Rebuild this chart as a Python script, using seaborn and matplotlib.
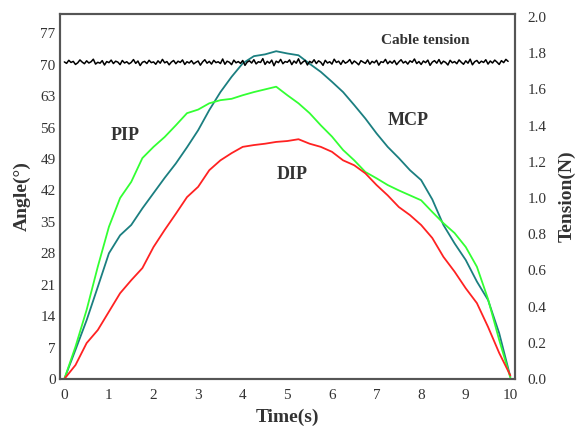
import matplotlib
matplotlib.use("Agg")
import matplotlib.pyplot as plt
import numpy as np
import pandas as pd
import seaborn as sns

time_angle = [0, 0.25, 0.5, 0.75, 1, 1.25, 1.5, 1.75, 2, 2.25, 2.5, 2.75, 3, 3.25, 3.5,
              3.75, 4, 4.25, 4.5, 4.75, 5, 5.25, 5.5, 5.75, 6, 6.25, 6.5, 6.75, 7, 7.25,
              7.5, 7.75, 8, 8.25, 8.5, 8.75, 9, 9.25, 9.5, 9.75, 10]

mcp = [0, 6.5, 13.1, 20.5, 28, 32, 34.3, 38.0, 41.4, 44.8, 48, 51.6, 55.4, 59.9, 63.9,
       67.3, 70.3, 71.9, 72.3, 73.0, 72.5, 72.1, 70.2, 68.4, 66.2, 63.9, 61, 58, 54.7,
       51.7, 49.2, 46.5, 44.3, 40.0, 34.3, 30.2, 26.5, 21.7, 17.6, 10.2, 0.5]

pip = [0, 7.2, 15.4, 25, 33.9, 40.3, 43.9, 49.2, 51.7, 53.9, 56.5, 59.2, 60, 61.4, 62.1,
       62.4, 63.2, 63.9, 64.5, 65.1, 63.2, 61.4, 59.2, 56.5, 54, 51, 48.7, 46.1, 44.7,
       43.2, 42, 40.9, 39.8, 37.2, 34.7, 32.5, 29.4, 25, 17.8, 8.7, 0.3]

dip = [0, 3.1, 8, 10.9, 15, 19.1, 22, 24.7, 29.4, 33.2, 36.8, 40.5, 42.8, 46.5, 48.7,
       50.3, 51.7, 52.1, 52.4, 52.8, 53.0, 53.4, 52.4, 51.7, 50.6, 48.7, 47.6, 45.8, 43.2,
       40.9, 38.3, 36.5, 34.3, 31.4, 27.2, 23.9, 20.2, 16.9, 11.6, 5.8, 0.8]

# cable tension (N), read every 0.05 s, it just wobbles around 1.75
tension = [1.752, 1.744, 1.761, 1.749, 1.755, 1.738, 1.747, 1.763, 1.751, 1.742,
           1.758, 1.746, 1.753, 1.767, 1.740, 1.750, 1.745, 1.759, 1.735, 1.754,
           1.748, 1.762, 1.743, 1.756, 1.751, 1.737, 1.760, 1.746, 1.753, 1.741,
           1.749, 1.765, 1.744, 1.757, 1.732, 1.750, 1.755, 1.743, 1.761, 1.748,
           1.752, 1.739, 1.758, 1.745, 1.766, 1.747, 1.754, 1.736, 1.751, 1.760,
           1.742, 1.756, 1.749, 1.763, 1.738, 1.753, 1.746, 1.759, 1.741, 1.750,
           1.757, 1.734, 1.752, 1.764, 1.745, 1.755, 1.740, 1.761, 1.748, 1.753,
           1.743, 1.768, 1.739, 1.756, 1.750, 1.737, 1.762, 1.747, 1.754, 1.744,
           1.760, 1.733, 1.751, 1.758, 1.746, 1.764, 1.741, 1.753, 1.749, 1.770,
           1.738, 1.755, 1.745, 1.762, 1.731, 1.756, 1.748, 1.766, 1.742, 1.754,
           1.750, 1.763, 1.737, 1.757, 1.745, 1.769, 1.740, 1.752, 1.760, 1.735,
           1.755, 1.747, 1.764, 1.743, 1.758, 1.750, 1.733, 1.761, 1.746, 1.753,
           1.740, 1.767, 1.749, 1.756, 1.738, 1.760, 1.745, 1.752, 1.765, 1.741,
           1.757, 1.748, 1.736, 1.759, 1.751, 1.744, 1.763, 1.739, 1.755, 1.747,
           1.761, 1.734, 1.753, 1.749, 1.766, 1.742, 1.756, 1.745, 1.760, 1.737,
           1.752, 1.764, 1.746, 1.755, 1.740, 1.758, 1.750, 1.768, 1.743, 1.754,
           1.738, 1.757, 1.748, 1.762, 1.733, 1.751, 1.759, 1.745, 1.765, 1.741,
           1.756, 1.749, 1.735, 1.761, 1.747, 1.754, 1.742, 1.763, 1.750, 1.739,
           1.758, 1.745, 1.767, 1.736, 1.753, 1.760, 1.744, 1.756, 1.749, 1.764,
           1.740, 1.757, 1.746, 1.762, 1.751, 1.738, 1.759, 1.748, 1.766, 1.755]
time_tension = np.linspace(0, 9.95, len(tension))

angle_ticks = [0, 7, 14, 21, 28, 35, 42, 49, 56, 63, 70, 77]
tension_ticks = [0.0, 0.2, 0.4, 0.6, 0.8, 1.0, 1.2, 1.4, 1.6, 1.8, 2.0]
time_ticks = [0, 1, 2, 3, 4, 5, 6, 7, 8, 9, 10]

df_angle = pd.DataFrame({"Time": time_angle, "MCP": mcp, "PIP": pip, "DIP": dip})
df_tension = pd.DataFrame({"Time": time_tension, "Tension": tension})

sns.set_style("white")
plt.rcParams["font.family"] = ["Liberation Serif", "DejaVu Serif"]

fig = plt.figure(figsize=(5.87, 4.32), dpi=100)
ax = fig.add_axes([0.102, 0.1227, 0.775, 0.845])

sns.lineplot(data=df_angle, x="Time", y="MCP", color="#1b7f80", lw=1.3, ax=ax)
sns.lineplot(data=df_angle, x="Time", y="PIP", color="#33ff33", lw=1.3, ax=ax)
sns.lineplot(data=df_angle, x="Time", y="DIP", color="#ff2222", lw=1.3, ax=ax)

ax2 = ax.twinx()
sns.lineplot(data=df_tension, x="Time", y="Tension", color="black", lw=1.1, ax=ax2)

ax.set_xlim(-0.1, 10.1)
ax.set_ylim(0, 81.3)
ax2.set_ylim(0, 2.017)
ax.set_xticks(time_ticks)
ax.set_yticks(angle_ticks)
ax2.set_yticks(tension_ticks)
ax2.set_yticklabels(["%.1f" % v for v in tension_ticks])

ax.tick_params(axis="both", length=0, labelsize=11, labelcolor="#333333")
ax.tick_params(axis="y", pad=3)
ax.tick_params(axis="x", pad=7)
ax2.tick_params(axis="y", length=0, labelsize=11, labelcolor="#333333", pad=9)

ax.set_xlabel("Time(s)", fontsize=14, fontweight="bold", color="#333333", labelpad=5)
ax.set_ylabel("Angle(°)", fontsize=14, fontweight="bold", color="#333333", labelpad=7)
ax2.set_ylabel("Tension(N)", fontsize=14, fontweight="bold", color="#333333", labelpad=9)

for a in (ax, ax2):
    for s in a.spines.values():
        s.set_color("#555555")
        s.set_linewidth(1.5)

# curve labels
lab = dict(fontsize=13, fontweight="bold", color="#333333", ha="center", va="center")
ax.text(1.36, 54.3, "PIP", **lab)
ax.text(5.1, 45.6, "DIP", **lab)
ax.text(7.7, 57.6, "MCP", **lab)
ax.text(8.1, 75.4, "Cable tension", fontsize=11, fontweight="bold", color="#333333",
        ha="center", va="center")

plt.savefig("out.png", dpi=100)
